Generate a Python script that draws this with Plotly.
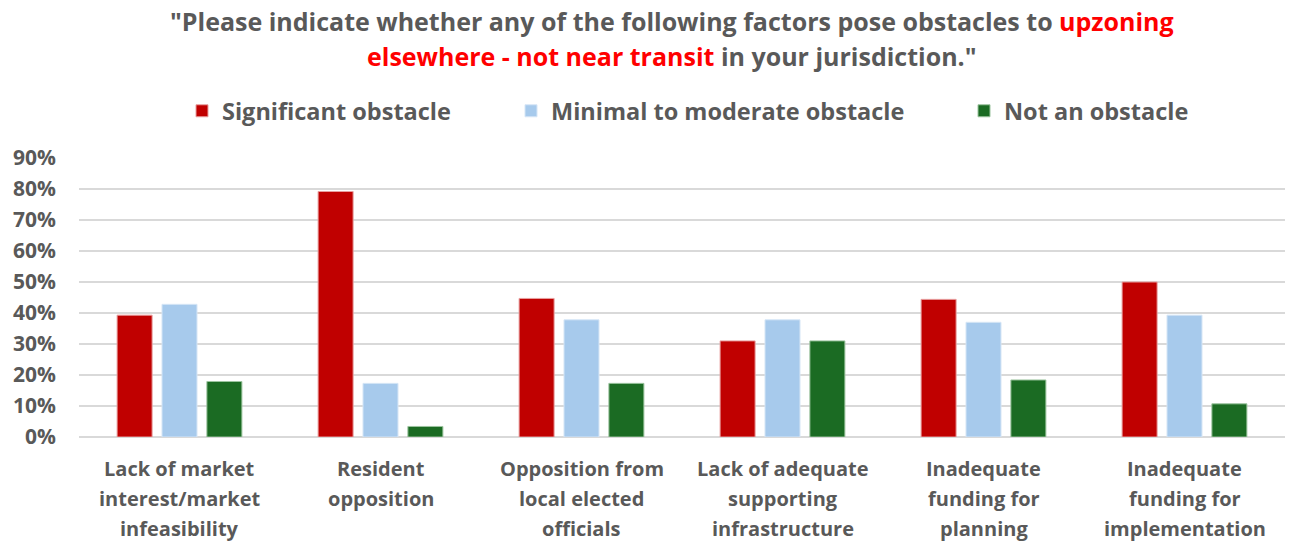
import plotly.graph_objects as go

categories = [
    "Lack of market<br>interest/market<br>infeasibility",
    "Resident<br>opposition",
    "Opposition from<br>local elected<br>officials",
    "Lack of adequate<br>supporting<br>infrastructure",
    "Inadequate<br>funding for<br>planning",
    "Inadequate<br>funding for<br>implementation",
]
significant = [0.393, 0.792, 0.447, 0.310, 0.444, 0.500]
minimal_moderate = [0.428, 0.173, 0.378, 0.378, 0.370, 0.393]
not_obstacle = [0.179, 0.034, 0.173, 0.310, 0.184, 0.107]
y_ticks = [i / 10 for i in range(10)]

series_names = ["Significant obstacle", "Minimal to moderate obstacle", "Not an obstacle"]
colors = ["#C00000", "#A7CAEC", "#1B6B23"]
edge_colors = ["#E8A0A0", "#D6E6F6", "#9CC49F"]

FONT = "Open Sans, sans-serif"
GRAY = "#595959"

W, H = 1289, 542
ML, MR, MT, MB = 79, 4, 158, 105
plot_w = W - ML - MR
plot_h = H - MT - MB

x_idx = list(range(len(categories)))

# each series gets its own legend so the entries can sit at their own spots
legend_ids = ["legend", "legend2", "legend3"]
legend_left_px = [182, 511, 964]

fig = go.Figure()
for name, vals, col, edge, lg in zip(series_names, [significant, minimal_moderate, not_obstacle],
                                     colors, edge_colors, legend_ids):
    fig.add_trace(go.Bar(
        x=x_idx, y=vals, name=f"<b>{name}</b>",
        marker=dict(color=col, line=dict(color=edge, width=1)),
        legend=lg,
    ))

legend_layout = {}
for lg, left in zip(legend_ids, legend_left_px):
    legend_layout[lg] = dict(
        orientation="h", x=(left - ML) / plot_w, xanchor="left",
        y=(H - 111) / H, yref="container", yanchor="middle",
        font=dict(family=FONT, size=23.5, color=GRAY),
        bgcolor="rgba(0,0,0,0)",
    )

def paper_y(px_from_top):
    return (H - MB - px_from_top) / plot_h

annotations = []
# category labels, one annotation per line for wider line spacing
for i, cat in enumerate(categories):
    for j, line in enumerate(cat.split("<br>")):
        annotations.append(dict(
            x=i, xref="x", y=paper_y(468 + j * 30), yref="paper",
            text=f"<b>{line}</b>", showarrow=False,
            font=dict(family=FONT, size=20, color=GRAY),
            xanchor="center", yanchor="middle",
        ))

title_lines = [
    '"Please indicate whether any of the following factors pose obstacles to <span style="color:#FF0000">upzoning</span>',
    '<span style="color:#FF0000">elsewhere - not near transit</span> in your jurisdiction."',
]
for k, t in enumerate(title_lines):
    annotations.append(dict(
        x=(672 - ML) / plot_w, xref="paper", y=paper_y(21 + k * 35), yref="paper",
        text=f"<b>{t}</b>", showarrow=False,
        font=dict(family=FONT, size=25, color=GRAY),
        xanchor="center", yanchor="middle",
    ))

fig.update_layout(
    width=W, height=H,
    margin=dict(l=ML, r=MR, t=MT, b=MB),
    paper_bgcolor="white", plot_bgcolor="white",
    barmode="group", bargap=0.33, bargroupgap=0.22,
    font=dict(family=FONT, size=20, color=GRAY),
    showlegend=True,
    annotations=annotations,
    **legend_layout,
)

fig.update_xaxes(
    tickvals=x_idx, ticktext=[""] * len(x_idx), range=[-0.5, len(categories) - 0.5],
    showgrid=False, showline=False, zeroline=False, ticks="",
)
fig.update_yaxes(
    range=[0, 0.9], tickvals=y_ticks,
    ticktext=[f"<b>{round(v * 100)}%</b>" for v in y_ticks],
    showgrid=True, gridcolor="#D9D9D9", gridwidth=2,
    zeroline=True, zerolinecolor="#D9D9D9", zerolinewidth=2,
    tickfont=dict(family=FONT, size=21, color=GRAY),
    ticklabelstandoff=22,
)

fig.write_html("out.html")
